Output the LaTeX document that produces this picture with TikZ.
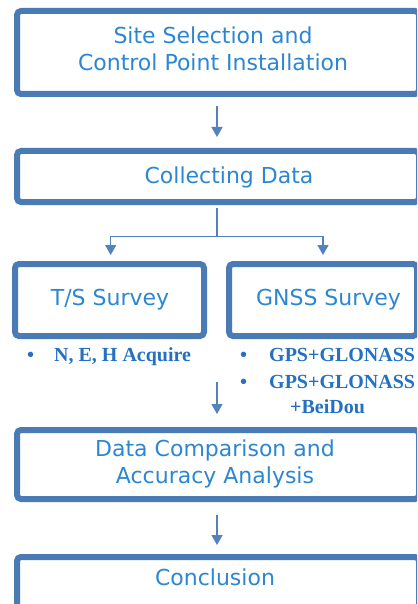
\documentclass[tikz,border=0pt]{standalone}
\usepackage{fontspec}
\usetikzlibrary{arrows.meta}
\newfontfamily\boxfont{DejaVu Sans}
\newfontfamily\notefont{Liberation Serif}
\definecolor{frameblue}{HTML}{4A7BB5}
\definecolor{lineblue}{HTML}{5283BE}
\definecolor{titleblue}{HTML}{2C87D2}
\definecolor{noteblue}{HTML}{2471C2}
\tikzset{
  stagebox/.style={draw=frameblue, line width=6pt, rounded corners=4pt, fill=white,
    inner sep=0pt, minimum width=402pt},
  title/.style={text=titleblue, font=\boxfont\fontsize{22}{27}\selectfont, align=center, inner sep=0pt},
  note/.style={text=noteblue, font=\notefont\bfseries\fontsize{20}{23}\selectfont, inner sep=0pt, anchor=base west},
  flow/.style={draw=lineblue, line width=1.3pt, -{Triangle[width=11pt,length=10pt]}},
}
\begin{document}
\begin{tikzpicture}[x=1pt, y=-1pt]
  \useasboundingbox (0,0) rectangle (417,604);
  \clip (0,0) rectangle (417,604);

  % stage boxes
  \node[stagebox, minimum height=83pt] (b1) at (218,52.5) {};
  \node[stagebox, minimum height=51pt] (b2) at (218,176.5) {};
  \node[stagebox, minimum height=72pt, minimum width=189pt] (ts) at (109.5,300) {};
  \node[stagebox, minimum height=72pt, minimum width=188pt] (gn) at (323,300) {};
  \node[stagebox, minimum height=69pt] (b4) at (218,464.5) {};
  \node[stagebox, minimum height=72pt] (b5) at (218,593) {};

  % box titles
  \node[title] (t1) at (213,48.5) {Site Selection and\\Control Point Installation};
  \node[title, anchor=base] (t2) at (229,183) {Collecting Data};
  \node[title, anchor=base] (t3) at (110,305) {T/S Survey};
  \node[title, anchor=base] (t4) at (328.5,305) {GNSS Survey};
  \node[title] (t5) at (215,464) {Data Comparison and\\Accuracy Analysis};
  \node[title, anchor=base] (t6) at (215,585) {Conclusion};

  % notes under the survey boxes
  \node[note] (n0) at (27,361.5) {•};
  \node[note] (n1) at (54,361.5) {N, E, H Acquire};
  \node[note] (g0) at (240,361.5) {•};
  \node[note] (g1) at (269,361.5) {GPS+GLONASS};
  \node[note] (g2) at (240,388) {•};
  \node[note] (g3) at (269,388) {GPS+GLONASS};
  \node[note] (g4) at (290,413.5) {+BeiDou};

  % connectors
  \coordinate (ax) at (217,0);
  \coordinate (split) at (217,236.7);
  \coordinate (left) at (110.7,236.7);
  \coordinate (right) at (323,236.7);
  \coordinate (c3) at (217,382);

  \draw[flow, shorten <=9pt, shorten >=11pt] (b1.south -| ax) -- (b2.north -| ax);
  \draw[draw=lineblue, line width=1.3pt, shorten <=3pt] (b2.south -| ax) -- (split);
  \draw[flow, shorten >=6pt] (split) -- (left) -- (ts.north -| left);
  \draw[flow, shorten >=6pt] (split) -- (right) -- (gn.north -| right);
  \draw[flow, shorten >=13pt] (c3) -- (b4.north -| ax);
  \draw[flow, shorten <=13pt, shorten >=9pt] (b4.south -| ax) -- (b5.north -| ax);
\end{tikzpicture}
\end{document}
